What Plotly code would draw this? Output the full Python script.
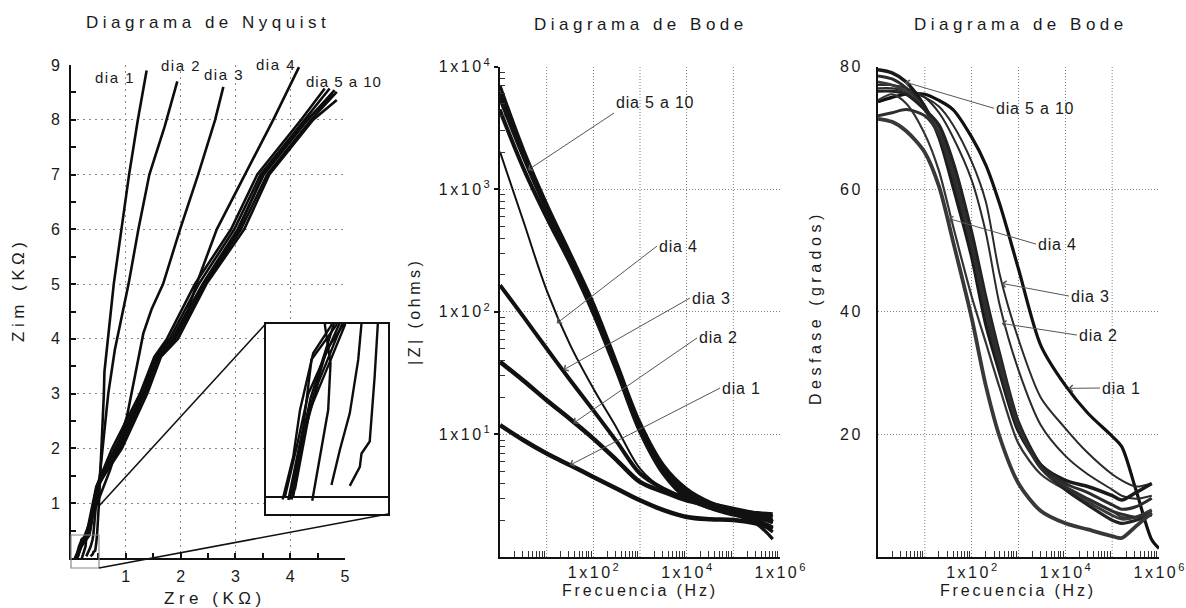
import plotly.graph_objects as go

W, H = 1186, 608
def PX(x): return x / W
def PY(y): return 1 - y / H
def LS(t, s): return f'<span style="letter-spacing:{s}px">{t}</span>'

FONT = "Liberation Sans, Arial, sans-serif"

# ---------------- Nyquist data (KOhm) ----------------
NYQ_DIA1_X = [0.357, 0.371, 0.400, 0.407, 0.442, 0.463, 0.475, 0.51, 0.56, 0.60, 0.61, 0.67, 0.78, 0.92, 1.06, 1.22, 1.38]
NYQ_DIA1_Y = [0.028, 0.042, 0.074, 0.106, 0.135, 0.291, 0.42, 1.0, 2.0, 3.0, 3.4, 4.0, 5.0, 6.0, 7.0, 8.0, 8.9]
NYQ_DIA2_X = [0.279, 0.315, 0.357, 0.393, 0.407, 0.44, 0.47, 0.53, 0.60, 0.68, 0.80, 0.95, 1.05, 1.23, 1.43, 1.71, 1.94]
NYQ_DIA2_Y = [0.030, 0.115, 0.203, 0.332, 0.42, 0.80, 1.10, 1.55, 2.20, 3.00, 3.80, 4.54, 5.00, 6.00, 7.00, 7.88, 8.70]
NYQ_DIA3_X = [0.197, 0.237, 0.265, 0.275, 0.251, 0.50, 0.71, 1.02, 1.32, 1.47, 1.68, 1.99, 2.32, 2.63, 2.78]
NYQ_DIA3_Y = [-0.008, 0.123, 0.211, 0.324, 0.416, 1.06, 1.6, 2.58, 4.1, 4.54, 5.0, 6.0, 7.0, 8.0, 8.6]
NYQ_DIA4_X = [0.10, 0.145, 0.19, 0.24, 0.29, 0.40, 0.47, 0.85, 1.32, 1.58, 1.85, 2.14, 2.29, 2.66, 3.17, 3.69, 4.16]
NYQ_DIA4_Y = [-0.005, 0.12, 0.24, 0.33, 0.42, 0.95, 1.25, 2.0, 3.0, 3.6, 4.0, 4.54, 5.0, 6.0, 7.0, 8.0, 8.96]
NYQ_DIA5_X = [0.071, 0.116, 0.145, 0.201, 0.279, 0.40, 0.46, 0.75, 1.26, 1.52, 1.75, 2.26, 2.92, 3.40, 4.20, 4.63]
NYQ_DIA5_Y = [-0.005, 0.098, 0.211, 0.348, 0.416, 1.0, 1.3, 2.0, 3.0, 3.67, 4.0, 5.0, 6.0, 7.0, 8.0, 8.57]
NYQ_DIA6_X = [0.109, 0.159, 0.222, 0.322, 0.42, 0.47, 0.80, 1.30, 1.55, 1.80, 2.33, 2.98, 3.46, 4.26, 4.72]
NYQ_DIA6_Y = [-0.005, 0.147, 0.276, 0.416, 1.0, 1.3, 2.0, 3.0, 3.67, 4.0, 5.0, 6.0, 7.0, 8.0, 8.57]
NYQ_DIA7_X = [0.123, 0.187, 0.258, 0.336, 0.44, 0.48, 0.85, 1.34, 1.58, 1.85, 2.40, 3.04, 3.52, 4.32, 4.81]
NYQ_DIA7_Y = [0.018, 0.211, 0.308, 0.416, 1.0, 1.3, 2.0, 3.0, 3.67, 4.0, 5.0, 6.0, 7.0, 8.0, 8.54]
NYQ_DIA8_X = [0.095, 0.159, 0.194, 0.300, 0.41, 0.47, 0.90, 1.37, 1.62, 1.90, 2.45, 3.10, 3.58, 4.38, 4.85]
NYQ_DIA8_Y = [-0.006, 0.171, 0.333, 0.416, 1.0, 1.3, 2.0, 3.0, 3.67, 4.0, 5.0, 6.0, 7.0, 8.0, 8.51]
NYQ_DIA9_X = [0.116, 0.173, 0.258, 0.329, 0.43, 0.47, 0.93, 1.39, 1.64, 1.95, 2.47, 3.16, 3.62, 4.42, 4.85]
NYQ_DIA9_Y = [0.002, 0.187, 0.356, 0.416, 1.0, 1.3, 2.0, 3.0, 3.67, 4.0, 5.0, 6.0, 7.0, 8.0, 8.36]
NYQ_DIA10_X = [0.08, 0.13, 0.18, 0.31, 0.42, 0.47, 0.88, 1.36, 1.60, 1.88, 2.42, 3.06, 3.50, 4.30, 4.78]
NYQ_DIA10_Y = [0.0, 0.12, 0.25, 0.416, 1.0, 1.3, 2.0, 3.0, 3.67, 4.0, 5.0, 6.0, 7.0, 8.0, 8.46]

NYQ = [(NYQ_DIA1_X, NYQ_DIA1_Y), (NYQ_DIA2_X, NYQ_DIA2_Y), (NYQ_DIA3_X, NYQ_DIA3_Y),
       (NYQ_DIA4_X, NYQ_DIA4_Y), (NYQ_DIA5_X, NYQ_DIA5_Y), (NYQ_DIA6_X, NYQ_DIA6_Y),
       (NYQ_DIA7_X, NYQ_DIA7_Y), (NYQ_DIA8_X, NYQ_DIA8_Y), (NYQ_DIA9_X, NYQ_DIA9_Y),
       (NYQ_DIA10_X, NYQ_DIA10_Y)]

# ---------------- Bode |Z| data (ohms) ----------------
FREQ_Z = [1, 3.2, 10, 32, 100, 320, 1000, 3200, 10000, 32000, 100000, 320000, 700000]
Z_DIA1 = [11.9, 8.96, 6.98, 5.6, 4.5, 3.61, 2.90, 2.41, 2.12, 2.03, 2.0, 1.87, 1.70]
Z_DIA2 = [39.1, 27.4, 19.0, 13.3, 9.25, 6.15, 4.1, 3.4, 2.9, 2.64, 2.4, 2.19, 1.93]
Z_DIA3 = [165, 91, 50.2, 27.7, 15.7, 8.7, 4.8, 3.6, 3.0, 2.72, 2.48, 2.26, 2.12]
Z_DIA4 = [2020, 543, 150, 53.5, 23.7, 11.2, 5.26, 3.6, 3.0, 2.56, 2.33, 2.12, 2.0]
Z_DIA5 = [7000, 2100, 760, 300, 118, 38, 12.5, 5.6, 3.6, 2.8, 2.45, 2.3, 2.25]
Z_DIA6 = [6200, 1950, 720, 290, 112, 36, 11.8, 5.3, 3.4, 2.7, 2.35, 2.1, 1.9]
Z_DIA7 = [5800, 1850, 690, 280, 108, 35, 11.3, 5.1, 3.3, 2.65, 2.3, 1.95, 1.6]
Z_DIA8 = [5400, 1800, 670, 270, 104, 34, 11.0, 5.0, 3.25, 2.6, 2.25, 1.85, 1.4]
Z_DIA9 = [4500, 1500, 600, 255, 100, 33, 10.7, 4.8, 3.1, 2.5, 2.2, 2.0, 1.75]
Z_DIA10 = [4300, 1450, 580, 245, 96, 32, 10.4, 4.7, 3.0, 2.5, 2.25, 2.1, 2.0]

# ---------------- Bode phase data (degrees) ----------------
FREQ_P = [1, 2, 4, 10, 20, 40, 100, 200, 400, 1000, 3000, 10000, 30000, 100000, 160000, 320000, 700000, 1000000]
P_DIA1 = [74.3, 75.0, 75.5, 75.5, 74.5, 73.0, 68.5, 64.0, 57.5, 47.0, 34.5, 28.0, 23.5, 19.7, 18.0, 11.0, 2.8, 1.4]
P_DIA2 = [77.0, 77.0, 76.5, 75.0, 72.5, 68.5, 61.5, 53.0, 41.0, 30.5, 21.5, 16.5, 13.5, 11.0, 10.0, 9.5, 10.0, None]
P_DIA3 = [76.5, 76.5, 76.0, 75.0, 73.5, 70.5, 64.5, 58.0, 46.0, 35.5, 26.0, 21.0, 17.0, 13.5, 12.5, 11.5, 12.0, None]
P_DIA4 = [74.5, 75.5, 74.0, 69.0, 63.0, 54.0, 42.5, 35.0, 27.5, 18.5, 13.5, 11.0, 9.5, 7.5, 6.5, 6.5, 7.5, None]
P_DIA5 = [79.5, 79.0, 77.5, 73.5, 68.5, 60.5, 49.0, 38.0, 30.0, 20.5, 15.0, 12.5, 11.5, 10.0, 9.3, 10.5, 12.0, None]
P_DIA6 = [78.5, 78.0, 76.5, 73.0, 69.0, 62.0, 50.5, 40.0, 31.0, 21.0, 15.0, 12.0, 10.5, 8.5, 7.8, 8.2, 9.6, None]
P_DIA7 = [77.5, 77.0, 76.0, 73.0, 70.0, 63.5, 52.0, 41.5, 32.0, 21.5, 14.5, 11.0, 9.0, 6.8, 6.2, 6.5, 7.7, None]
P_DIA8 = [76.0, 76.0, 75.5, 73.0, 70.5, 64.5, 53.0, 42.5, 33.0, 22.0, 15.0, 11.0, 8.5, 6.0, 5.5, 6.0, 6.9, None]
P_DIA9 = [72.0, 72.5, 73.0, 72.0, 69.0, 63.0, 51.0, 41.0, 32.0, 21.5, 14.5, 11.5, 9.5, 7.5, 7.0, 6.5, 7.2, None]
P_DIA10 = [71.5, 71.0, 69.5, 66.0, 60.5, 51.5, 39.0, 28.0, 19.5, 12.0, 7.5, 5.5, 4.5, 3.4, 3.1, 5.0, 7.2, None]

Z_ALL = [Z_DIA1, Z_DIA2, Z_DIA3, Z_DIA4, Z_DIA5, Z_DIA6, Z_DIA7, Z_DIA8, Z_DIA9, Z_DIA10]
P_ALL = [P_DIA1, P_DIA2, P_DIA3, P_DIA4, P_DIA5, P_DIA6, P_DIA7, P_DIA8, P_DIA9, P_DIA10]

Z_WIDTH = [4.5, 4.5, 4.0, 2.0, 3.2, 3.2, 3.2, 3.2, 3.2, 3.2]
P_WIDTH = [3.2, 2.0, 2.0, 2.2, 3.5, 3.0, 3.0, 3.2, 3.0, 3.8]
P_COLOR = ["#111111", "#2a2a2a", "#2a2a2a", "#333333", "#1a1a1a", "#2b2b2b",
           "#3a3a3a", "#222222", "#2e2e2e", "#383838"]

fig = go.Figure()

for xs, ys in NYQ:
    fig.add_trace(go.Scatter(x=xs, y=ys, mode="lines", xaxis="x", yaxis="y",
                             line=dict(color="#0d0d0d", width=2.6)))
for xs, ys in NYQ:
    fig.add_trace(go.Scatter(x=xs, y=ys, mode="lines", xaxis="x4", yaxis="y4",
                             line=dict(color="#0d0d0d", width=2.4)))
for z, w in zip(Z_ALL, Z_WIDTH):
    fig.add_trace(go.Scatter(x=FREQ_Z, y=z, mode="lines", xaxis="x2", yaxis="y2",
                             line=dict(color="#111111", width=w, shape="spline", smoothing=1.0)))
for p, w, c in zip(P_ALL, P_WIDTH, P_COLOR):
    fig.add_trace(go.Scatter(x=FREQ_P, y=p, mode="lines", xaxis="x3", yaxis="y3",
                             line=dict(color=c, width=w, shape="spline", smoothing=0.8)))

tickfont = dict(family=FONT, size=16, color="#1a1a1a")
grid1 = dict(showgrid=True, gridcolor="#8a8a8a", griddash="2px,4px", gridwidth=1.3)
grid2 = dict(showgrid=True, gridcolor="#808080", griddash="1px,2px", gridwidth=1)
axline = dict(showline=True, linecolor="#111", linewidth=2, zeroline=False, automargin=False)

log_minor = [k * 10 ** d for d in range(0, 6) for k in range(2, 10)]
log_minor_y = [k * 10 ** d for d in range(0, 4) for k in range(2, 10)]
sup_lbl = lambda k: LS("1x10", 2.5) + "<sup>%d</sup>" % k

fig.update_layout(
    template="none",
    width=W, height=H, margin=dict(l=0, r=0, t=0, b=0, pad=0, autoexpand=False),
    paper_bgcolor="white", plot_bgcolor="white", showlegend=False, hovermode=False,
    font=dict(family=FONT, size=16, color="#1a1a1a"),
    xaxis=dict(domain=[PX(71), PX(345)], range=[0, 5], anchor="y",
               tickvals=[1, 2, 3, 4, 5], ticks="inside", ticklen=5, tickwidth=1.5, tickcolor="#111",
               minor=dict(dtick=0.5, ticks="inside", ticklen=5, tickwidth=1.5, tickcolor="#111", showgrid=False),
               tickfont=tickfont, ticklabelstandoff=3, **grid1, **axline),
    yaxis=dict(domain=[PY(558), PY(65)], range=[0, 9], anchor="x",
               tickvals=list(range(1, 10)), ticks="inside", ticklen=5, tickwidth=1.5, tickcolor="#111",
               minor=dict(dtick=0.5, ticks="inside", ticklen=5, tickwidth=1.5, tickcolor="#111", showgrid=False),
               tickfont=tickfont, ticklabelstandoff=6, **grid1, **axline),
    xaxis2=dict(domain=[PX(500), PX(780)], type="log", range=[0, 6], anchor="y2",
                tickvals=[100, 1e4, 1e6], ticktext=[sup_lbl(2), sup_lbl(4), sup_lbl(6)],
                ticks="", minor=dict(tickvals=log_minor, ticks="inside", ticklen=6, tickwidth=1, tickcolor="#333", showgrid=False),
                tickfont=tickfont, ticklabelstandoff=0, **grid2, **axline),
    yaxis2=dict(domain=[PY(557), PY(66.7)], type="log", range=[0, 4], anchor="x2",
                tickvals=[10, 100, 1e3, 1e4],
                ticktext=[sup_lbl(k) for k in range(1, 5)],
                ticks="outside", ticklen=4, tickwidth=1.5, tickcolor="#111",
                minor=dict(tickvals=log_minor_y, ticks="inside", ticklen=5, tickwidth=1, tickcolor="#333", showgrid=False),
                tickfont=tickfont, ticklabelstandoff=1, **grid2, **axline),
    xaxis3=dict(domain=[PX(878), PX(1159)], type="log", range=[0, 6], anchor="y3",
                tickvals=[100, 1e4, 1e6], ticktext=[sup_lbl(2), sup_lbl(4), sup_lbl(6)],
                ticks="", minor=dict(tickvals=log_minor, ticks="inside", ticklen=6, tickwidth=1, tickcolor="#333", showgrid=False),
                tickfont=tickfont, ticklabelstandoff=0, **grid2, **axline),
    yaxis3=dict(domain=[PY(557), PY(66.7)], range=[0, 80], anchor="x3",
                tickvals=[20, 40, 60, 80], ticktext=[LS(str(v), 2.5) for v in [20, 40, 60, 80]],
                ticks="", tickfont=tickfont, ticklabelstandoff=10, **grid2, **axline),
    xaxis4=dict(domain=[PX(266), PX(388)], range=[0, 0.52], anchor="y4", automargin=False,
                showticklabels=False, ticks="", showgrid=False, zeroline=False,
                showline=True, mirror=True, linecolor="#111", linewidth=2),
    yaxis4=dict(domain=[PY(514), PY(323.5)], range=[-0.04, 0.42], anchor="x4", automargin=False,
                showticklabels=False, ticks="", showgrid=False,
                zeroline=True, zerolinecolor="#111", zerolinewidth=2,
                showline=True, mirror=True, linecolor="#111", linewidth=2),
)

shapes = [
    dict(type="rect", xref="x", yref="y", x0=3.56, x1=5.2, y0=0.80, y1=4.28,
         fillcolor="white", line=dict(width=0), layer="between"),
    dict(type="rect", xref="paper", yref="paper", x0=PX(71), x1=PX(99), y0=PY(568), y1=PY(535),
         line=dict(color="#888", width=1.2)),
    dict(type="line", xref="paper", yref="paper", x0=PX(266), y0=PY(323.5), x1=PX(99), y1=PY(506),
         line=dict(color="#111", width=1.6)),
    dict(type="line", xref="paper", yref="paper", x0=PX(388), y0=PY(514), x1=PX(99), y1=PY(568),
         line=dict(color="#111", width=1.6)),
]
# unlabelled decade grid lines (10, 1e3, 1e5 Hz) on both Bode panels
for xr, yr in [("x2", "y2 domain"), ("x3", "y3 domain")]:
    for f in (10, 1000, 100000):
        shapes.append(dict(type="line", xref=xr, yref=yr, x0=f, x1=f, y0=0, y1=1, layer="below",
                           line=dict(color="#808080", width=1, dash="1px,2px")))
fig.update_layout(shapes=shapes)

ann = []
def text_px(t, x, y, size=16, angle=0, xanchor="center", ls=0):
    ann.append(dict(text=LS(t, ls) if ls else t, x=PX(x), y=PY(y), xref="paper", yref="paper",
                    showarrow=False, xanchor=xanchor, yanchor="middle", textangle=angle,
                    font=dict(family=FONT, size=size, color="#1a1a1a")))

text_px("Diagrama de Nyquist", 208, 23, size=17, ls=4.5)
text_px("Diagrama de Bode", 641, 24, size=17, ls=4.5)
text_px("Diagrama de Bode", 1021, 24, size=17, ls=4.5)
text_px("Zim (KΩ)", 18, 290, size=17, angle=-90, ls=4.5)
text_px("Zre (KΩ)", 215, 598, size=17, ls=4.5)
text_px("|Z| (ohms)", 414, 312, size=16, angle=-90, ls=3.5)
text_px("Frecuencia (Hz)", 640, 590, size=16, ls=2.8)
text_px("Desfase (grados)", 815, 308, size=16, angle=-90, ls=4.5)
text_px("Frecuencia (Hz)", 1018, 590, size=16, ls=2.8)
text_px("dia 1", 115, 77, size=15, ls=1.5)
text_px("dia 2", 181, 66, size=15, ls=1.5)
text_px("dia 3", 224, 74, size=15, ls=1.5)
text_px("dia 4", 276, 64, size=15, ls=1.5)
text_px("dia 5 a 10", 344, 81, size=15, ls=1)

ARROWS_Z = [("dia 5 a 10", (0.600, 3.157), (614, 113), (528, 170), "bottom"),
            ("dia 4", (1.215, 1.906), (657, 246), (556.7, 323.3), "middle"),
            ("dia 3", (1.356, 1.525), (690, 298), (563.3, 370), "middle"),
            ("dia 2", (1.571, 1.091), (697, 338), (573.3, 423.3), "middle"),
            ("dia 1", (1.500, 0.750), (720, 388), (570, 465), "middle")]
ARROWS_P = [("dia 5 a 10", (0.577, 77.5), (994, 108), (905, 81.7), "middle"),
            ("dia 4", (1.501, 55.25), (1036, 244), (948.3, 218.3), "middle"),
            ("dia 3", (2.641, 44.65), (1069, 296), (1001.7, 283.3), "middle"),
            ("dia 2", (2.641, 38.12), (1077, 335), (1001.7, 323.3), "middle"),
            ("dia 1", (4.064, 27.52), (1100, 388), (1068.3, 388.3), "middle")]
for arrows, xr, yr in [(ARROWS_Z, "x2", "y2"), (ARROWS_P, "x3", "y3")]:
    for t, (tx, ty), tail, tip, ya in arrows:
        ann.append(dict(text=LS(t, 0.8), x=tx, y=ty, xref=xr, yref=yr, showarrow=True,
                        ax=tail[0] - tip[0], ay=tail[1] - tip[1], xanchor="left", yanchor=ya,
                        font=dict(family=FONT, size=16, color="#1a1a1a"),
                        arrowhead=4, arrowsize=1.3, arrowwidth=1, arrowcolor="#555"))

fig.update_layout(annotations=ann)
fig.write_html(
    "out.html",
    config={"displayModeBar": False},
    post_script="document.body.style.margin='0px';document.body.style.overflow='hidden';",
)
